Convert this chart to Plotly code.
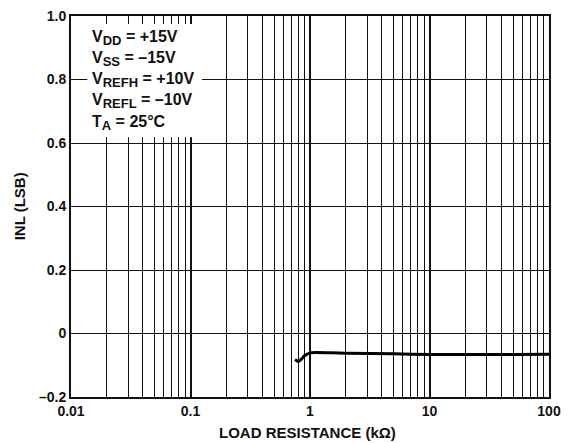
import plotly.graph_objects as go

# INL versus load resistance
load_kohm = [0.75, 0.80, 0.85, 0.90, 1.0, 1.5, 2.0, 5.0, 10.0, 20.0, 50.0, 100.0]
inl_lsb = [-0.082, -0.088, -0.080, -0.070, -0.061, -0.061, -0.062, -0.064, -0.066, -0.066, -0.066, -0.065]

x_ticks = [0.01, 0.1, 1, 10, 100]
x_ticktext = ["0.01", "0.1", "1", "10", "100"]
y_ticks = [-0.2, 0.0, 0.2, 0.4, 0.6, 0.8, 1.0]
y_ticktext = ["–0.2", "0", "0.2", "0.4", "0.6", "0.8", "1.0"]

# (symbol, subscript, value)
conditions = [
    ("V", "DD", " = +15V"),
    ("V", "SS", " = –15V"),
    ("V", "REFH", " = +10V"),
    ("V", "REFL", " = –10V"),
    ("T", "A", " = 25°C"),
]

minor_vals = [m * 10.0 ** e for e in range(-2, 2) for m in range(2, 10)]

FONT = "Liberation Sans, Arial, Helvetica, sans-serif"
INK = "#111111"

fig = go.Figure()
fig.add_trace(go.Scatter(
    x=load_kohm, y=inl_lsb, mode="lines",
    line=dict(color="#000000", width=3, shape="spline", smoothing=0.6),
    showlegend=False, hoverinfo="skip",
))

fig.update_xaxes(
    type="log", range=[-2, 2], automargin=False,
    tickvals=x_ticks, ticktext=x_ticktext,
    tickfont=dict(family=FONT, size=14, color=INK, weight="bold"),
    showgrid=True, gridcolor=INK, gridwidth=2,
    minor=dict(tickvals=minor_vals, showgrid=True, gridcolor=INK, gridwidth=1, ticks=""),
    showline=True, linecolor=INK, linewidth=2, mirror=True,
    ticks="", zeroline=False,
)
fig.update_yaxes(
    range=[-0.2, 1.0], automargin=False,
    tickvals=y_ticks, ticktext=y_ticktext,
    tickfont=dict(family=FONT, size=14, color=INK, weight="bold"),
    showgrid=True, gridcolor=INK, gridwidth=1,
    showline=True, linecolor=INK, linewidth=2, mirror=True,
    ticks="", zeroline=False,
)

# axis titles
fig.add_annotation(
    xref="paper", yref="paper", x=0.494, y=-0.092, xanchor="center", yanchor="middle",
    showarrow=False, text="LOAD RESISTANCE (kΩ)",
    font=dict(family=FONT, size=15, color=INK, weight="bold"),
)
fig.add_annotation(
    xref="paper", yref="paper", x=-0.107, y=0.5, xanchor="center", yanchor="middle",
    showarrow=False, text="INL (LSB)", textangle=-90,
    font=dict(family=FONT, size=15, color=INK, weight="bold"),
)

# white panel behind the operating conditions
fig.add_shape(type="rect", xref="paper", yref="paper",
              x0=0.034, x1=0.274, y0=0.682, y1=0.979,
              fillcolor="white", line=dict(width=0), layer="above")

for i, (sym, sub, val) in enumerate(conditions):
    txt = f"{sym}<sub><span style='font-size:13px'>{sub}</span></sub>{val}"
    fig.add_annotation(
        xref="paper", yref="paper", x=0.040, y=0.974 - i * 0.0556,
        xanchor="left", yanchor="top", showarrow=False, text=txt,
        font=dict(family=FONT, size=16, color=INK, weight="bold"),
    )

fig.update_layout(
    width=572, height=443,
    margin=dict(l=71, r=23, t=16, b=46),
    paper_bgcolor="white", plot_bgcolor="white",
)

fig.write_html("out.html")
